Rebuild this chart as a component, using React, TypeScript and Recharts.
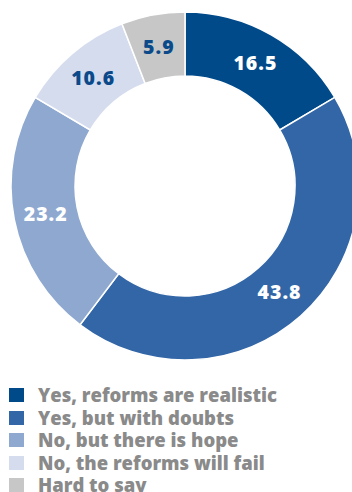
import React from "react";
import { PieChart, Pie, Cell } from "recharts";

const categories = [
  "Yes, reforms are realistic",
  "Yes, but with doubts",
  "No, but there is hope",
  "No, the reforms will fail",
  "Hard to say",
];
const values = [16.5, 43.8, 23.2, 10.6, 5.9];
const colors = ["#004a8a", "#3366a6", "#8ea8d0", "#d4dcee", "#c6c7c6"];
const labelColors = ["#ffffff", "#ffffff", "#ffffff", "#0a4a8a", "#0a4a8a"];

const data = categories.map((name, i) => ({ name, value: values[i] }));

const RAD = Math.PI / 180;
const FONT = "'Open Sans', sans-serif";

const renderLabel = (props: any) => {
  const { cx, cy, midAngle, innerRadius, outerRadius, index, value } = props;
  const r = (innerRadius + outerRadius) / 2;
  const x = cx + r * Math.cos(-midAngle * RAD);
  const y = cy + r * Math.sin(-midAngle * RAD);
  return (
    <text
      x={x}
      y={y}
      fill={labelColors[index]}
      textAnchor="middle"
      dominantBaseline="central"
      fontFamily={FONT}
      fontWeight={800}
      fontSize={19.5}
      letterSpacing={1}
    >
      {value.toFixed(1)}
    </text>
  );
};

export default function App() {
  return (
    <div style={{ position: "absolute", left: 0, top: 0, width: 352, height: 492, overflow: "hidden", background: "#fff" }}>
      <PieChart width={352} height={372} margin={{ top: 0, right: 0, bottom: 0, left: 0 }}>
        <Pie
          data={data}
          dataKey="value"
          cx={185}
          cy={186}
          innerRadius={110}
          outerRadius={174}
          startAngle={90}
          endAngle={-270}
          stroke="#ffffff"
          strokeWidth={1.5}
          label={renderLabel}
          labelLine={false}
          isAnimationActive={false}
        >
          {data.map((d, i) => (
            <Cell key={d.name} fill={colors[i]} />
          ))}
        </Pie>
      </PieChart>
      <div style={{ position: "absolute", left: 9, top: 384, fontFamily: FONT, fontWeight: 800, fontSize: 18.5, color: "#8a8a8a" }}>
        {categories.map((c, i) => (
          <div key={c} style={{ display: "flex", alignItems: "center", height: 22.5 }}>
            <span style={{ display: "inline-block", width: 15, height: 14, background: colors[i], marginRight: 14 }} />
            <span style={{ lineHeight: "22.5px" }}>{c}</span>
          </div>
        ))}
      </div>
    </div>
  );
}
